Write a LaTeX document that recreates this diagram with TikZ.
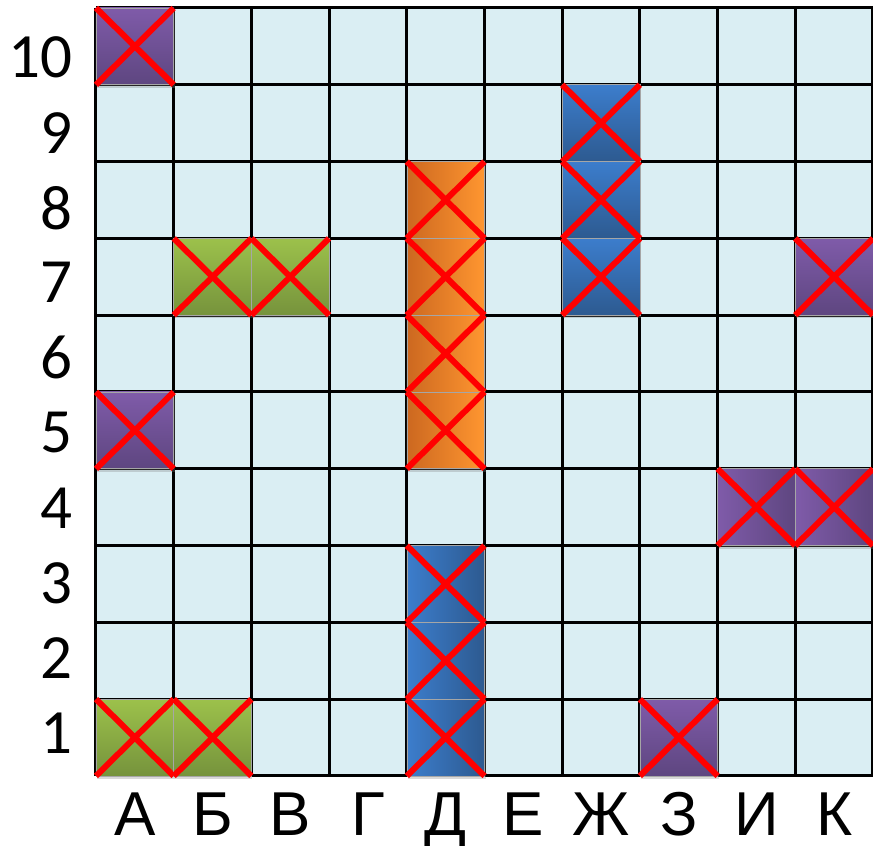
\documentclass[tikz,border=0pt]{standalone}
\usepackage{fontspec}
\setmainfont{Carlito}
\newfontfamily\letterfont{Liberation Sans}
\usetikzlibrary{shadows}

\definecolor{sea}{HTML}{DAEEF3}
\definecolor{purpleL}{HTML}{7F5BA9}
\definecolor{purpleD}{HTML}{5E4680}
\definecolor{greenL}{HTML}{9CC14B}
\definecolor{greenD}{HTML}{76933C}
\definecolor{blueL}{HTML}{3C7DCC}
\definecolor{blueD}{HTML}{2D5A90}
\definecolor{orangeL}{HTML}{FF9630}
\definecolor{orangeD}{HTML}{CC6820}

\newcommand{\hitcell}[3]{%
  \path[shipcell,#3] (#1-1,#2-1) rectangle (#1,#2);
  \draw[hitmark] (#1-1,#2-1) -- (#1,#2) (#1-1,#2) -- (#1,#2-1);
}

\begin{document}
\begin{tikzpicture}[x=77.7pt,y=76.8pt]
        \tikzstyle{gridline}=[black, line width=3pt]
        \tikzstyle{hitmark}=[red, line width=6pt]
        \tikzstyle{shipcell}=[draw=black!35, line width=0.6pt,
          drop shadow={shadow xshift=1pt, shadow yshift=-3pt, opacity=0.3}]
        \tikzstyle{purpleV}=[top color=purpleL, bottom color=purpleD]
        \tikzstyle{purpleH}=[left color=purpleL, right color=purpleD]
        \tikzstyle{greenV}=[top color=greenL, bottom color=greenD]
        \tikzstyle{blueV}=[top color=blueL, bottom color=blueD]
        \tikzstyle{blueH}=[left color=blueL, right color=blueD]
        \tikzstyle{orangeH}=[left color=orangeD, right color=orangeL]
        \tikzstyle{rowlabel}=[anchor=east, inner sep=0pt, font=\fontsize{63}{63}\selectfont]
        \tikzstyle{collabel}=[anchor=base, inner sep=0pt, text depth=0pt,
          font=\fontsize{62}{62}\letterfont]

        \useasboundingbox (-1.2355,-0.9115) rectangle (10,10.104);

        % board
        \fill[sea] (0,0) rectangle (10,10);
        \draw[gridline] (0,0) grid[step=1] (10,10);

        % hit ships, top to bottom
        \foreach \c/\r/\s in {1/10/purpleV, 7/9/blueV, 7/8/blueV, 5/8/orangeH,
            7/7/blueV, 2/7/greenV, 3/7/greenV, 5/7/orangeH, 10/7/purpleV,
            5/6/orangeH, 1/5/purpleV, 5/5/orangeH, 9/4/purpleH, 10/4/purpleH,
            5/3/blueH, 5/2/blueH, 5/1/blueH, 1/1/greenV, 2/1/greenV, 8/1/purpleV}
          {\hitcell{\c}{\r}{\s}}

        % labels
        \foreach \r in {1,...,10}
          \node[rowlabel] (row\r) at (-0.3, {0.56+0.977*(\r-1)}) {\r};
        \foreach \l [count=\c] in {А,Б,В,Г,Д,Е,Ж,З,И,К}
          \node[collabel] (col\c) at (\c-0.5, -0.78) {\l};
    \end{tikzpicture}
\end{document}
